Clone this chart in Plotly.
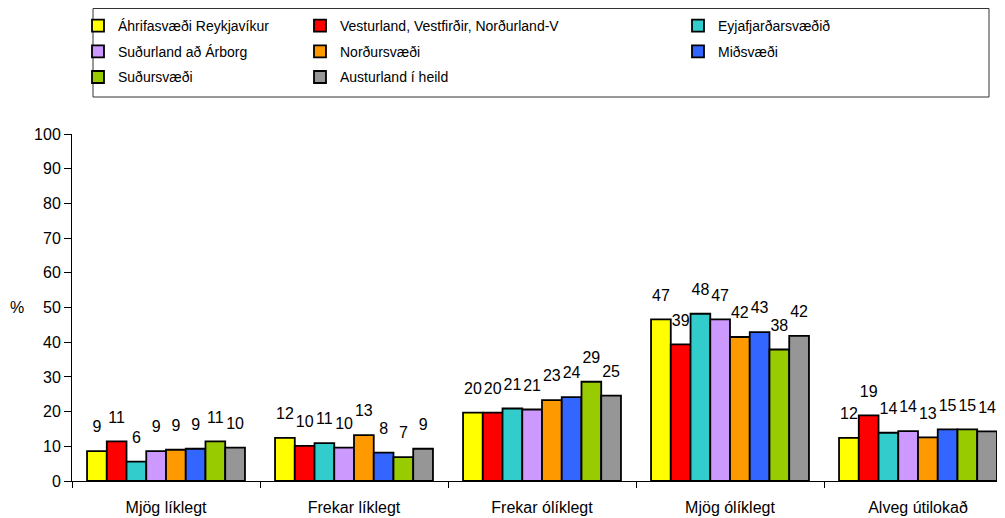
import plotly.graph_objects as go

categories = ["Mjög líklegt", "Frekar líklegt", "Frekar ólíklegt", "Mjög ólíklegt", "Alveg útilokað"]

series_names = [
    "Áhrifasvæði Reykjavíkur",
    "Vesturland, Vestfirðir, Norðurland-V",
    "Eyjafjarðarsvæðið",
    "Suðurland að Árborg",
    "Norðursvæði",
    "Miðsvæði",
    "Suðursvæði",
    "Austurland í heild",
]

ahrifasvaedi = [8.6, 12.4, 19.7, 46.6, 12.4]
vesturland = [11.4, 10.1, 19.7, 39.4, 18.9]
eyjafjordur = [5.6, 10.9, 20.9, 48.2, 13.9]
sudurland = [8.6, 9.6, 20.6, 46.6, 14.4]
nordursvaedi = [9.0, 13.2, 23.3, 41.5, 12.6]
midsvaedi = [9.3, 8.2, 24.2, 42.9, 14.9]
sudursvaedi = [11.4, 6.9, 28.6, 37.9, 14.9]
austurland = [9.6, 9.3, 24.6, 41.8, 14.3]

series_values = [ahrifasvaedi, vesturland, eyjafjordur, sudurland,
                 nordursvaedi, midsvaedi, sudursvaedi, austurland]

colors = ["#FFFF00", "#FF0000", "#33CCCC", "#CC99FF",
          "#FF9900", "#3366FF", "#99CC00", "#969696"]

legend_ids = ["legend", "legend2", "legend3",
              "legend", "legend2", "legend3",
              "legend", "legend2"]

FONT = "Liberation Sans, Arial, sans-serif"

# page body has an 8px margin; figure coords = window coords - 8
W, H = 997, 510
L, T, B = 64, 126, 37
plot_w = W - L
plot_h = H - T - B
GAP = 0.16

fig = go.Figure()
for i, (name, vals) in enumerate(zip(series_names, series_values)):
    fig.add_trace(go.Bar(
        name=name,
        x=categories,
        y=vals,
        offsetgroup=str(i),
        marker=dict(color=colors[i], line=dict(color="black", width=1.8)),
        legend=legend_ids[i],
        legendgroup=f"g{i}",
    ))
for i, (name, vals) in enumerate(zip(series_names, series_values)):
    fig.add_trace(go.Scatter(
        x=categories,
        y=vals,
        offsetgroup=str(i),
        mode="markers+text",
        marker=dict(size=22, color="rgba(0,0,0,0)"),
        text=[f"{int(v + 0.5):d}" for v in vals],
        textposition="top center",
        textfont=dict(family=FONT, size=16, color="black"),
        cliponaxis=False,
        showlegend=False,
        hoverinfo="skip",
    ))

legend_common = dict(
    xref="container", yref="container",
    xanchor="left", yanchor="top",
    bgcolor="rgba(0,0,0,0)", borderwidth=0,
    font=dict(family=FONT, size=14, color="black"),
    orientation="v", traceorder="grouped", tracegroupgap=4.5,
)
ytop = 1 - 2 / H
fig.update_layout(
    width=W, height=H,
    margin=dict(l=L, r=0, t=T, b=B, pad=0, autoexpand=False),
    paper_bgcolor="white", plot_bgcolor="white",
    barmode="group", bargap=GAP, bargroupgap=0,
    scattermode="group", scattergap=GAP,
    font=dict(family=FONT, size=16, color="black"),
    legend=dict(x=70 / W, y=ytop, **legend_common),
    legend2=dict(x=292 / W, y=ytop, **legend_common),
    legend3=dict(x=670 / W, y=ytop, **legend_common),
    showlegend=True,
)

fig.update_xaxes(
    type="category",
    range=[-0.5, -0.5 + 5 * plot_w / 940],
    showline=True, linecolor="black", linewidth=1,
    ticks="outside", ticklen=6, tickcolor="black", tickson="boundaries",
    tickfont=dict(family=FONT, size=16), tickangle=0, ticklabelstandoff=12,
    showgrid=False, zeroline=False,
)
fig.update_yaxes(
    range=[0, 100], dtick=10,
    showline=True, linecolor="black", linewidth=1,
    ticks="outside", ticklen=7, tickcolor="black",
    tickfont=dict(family=FONT, size=16), showgrid=False, zeroline=False,
)

# legend border
fig.add_shape(
    type="rect", xref="paper", yref="paper",
    x0=(85 - L) / plot_w, x1=(981 - L) / plot_w,
    y0=(H - B - 89) / plot_h, y1=(H - B - 0.5) / plot_h,
    line=dict(color="#333333", width=1), fillcolor="rgba(0,0,0,0)",
)

fig.add_annotation(
    text="%", xref="paper", yref="paper",
    x=(9 - L) / plot_w, y=(H - B - 299) / plot_h,
    xanchor="center", yanchor="middle",
    showarrow=False, font=dict(family=FONT, size=16, color="black"),
)

fig.write_html("out.html")
